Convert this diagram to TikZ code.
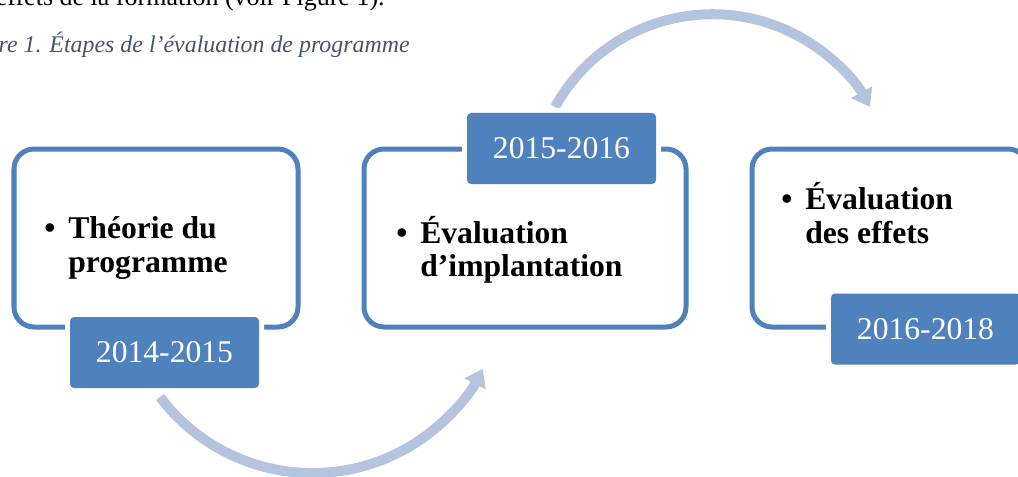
\documentclass[tikz,border=0pt]{standalone}
\usepackage{fontspec}
\setmainfont{Liberation Serif}
\usetikzlibrary{arrows.meta}

\definecolor{stepblue}{RGB}{79,129,189}
\definecolor{arcblue}{RGB}{180,196,223}
\definecolor{captiongray}{RGB}{68,84,106}

\newcommand{\itembullet}{\llap{\textbullet\hspace{0.26cm}}}

\begin{document}
\begin{tikzpicture}[
		phase/.style={draw=stepblue, line width=0.1cm, rounded corners=0.4cm, minimum height=3.56cm, inner sep=0pt},
		period/.style={fill=stepblue, text=white, rounded corners=0.08cm, minimum width=3.78cm, minimum height=1.42cm, inner sep=0pt, font=\fontsize{18}{20}\selectfont, preaction={draw=white, line width=0.2cm}},
		itemtext/.style={anchor=west, align=left, inner sep=0pt, font=\bfseries\fontsize{18}{19}\selectfont},
		turnarrow/.style={arcblue, line width=0.2cm, -{Triangle[length=0.34cm, width=0.46cm]}}
	]
		\useasboundingbox (0,0) rectangle (20.36,9.52);
		\clip (0,0) rectangle (20.36,9.52);
		
		% page text above the figure
		\node (para) [anchor=base east, inner sep=0pt, font=\fontsize{14.8}{16}\selectfont] at (7.7,9.4) {effets de la formation (voir Figure 1).};
		\node (caption) [anchor=base east, inner sep=0pt, text=captiongray, font=\itshape\fontsize{13.6}{15}\selectfont] at (8.2,8.46) {Figure 1. Étapes de l’évaluation de programme};
		
		% arcs between the steps
		\coordinate (a1) at (3.2,1.58);
		\coordinate (a2) at (11.1,7.38);
		\draw [turnarrow] (a1) arc [start angle=217, end angle=333, radius=3.82];
		\draw [turnarrow] (a2) arc [start angle=151, end angle=29, radius=3.6];
		
		% the three steps
		\node (b1) [phase, minimum width=5.68cm] at (3.12,4.76) {};
		\node (b2) [phase, minimum width=6.44cm] at (10.5,4.76) {};
		\node (b3) [phase, minimum width=5.52cm] at (17.8,4.76) {};
		
		\node (t1) [itemtext] at (1.36,4.56) {\itembullet Théorie du\\programme};
		\node (t2) [itemtext] at (8.4,4.52) {\itembullet Évaluation\\d’implantation};
		\node (t3) [itemtext] at (16.1,5.26) {\itembullet Évaluation\\des effets};
		
		% periods
		\node (p1) [period] at (3.29,2.47) {2014-2015};
		\node (p2) [period] at (11.23,6.55) {2015-2016};
		\node (p3) [period] at (18.51,2.94) {2016-2018};
	\end{tikzpicture}
\end{document}
